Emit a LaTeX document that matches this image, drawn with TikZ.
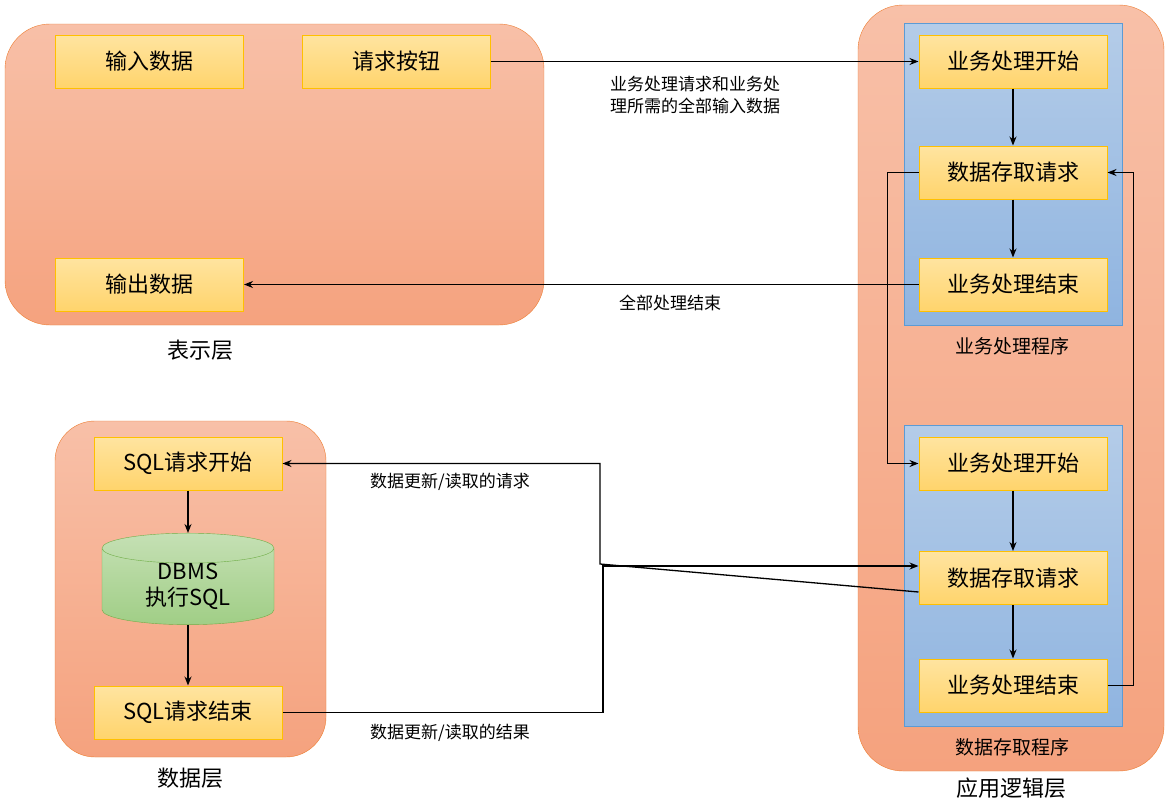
\documentclass[tikz,border=0pt]{standalone}
\usepackage{fontspec}
\setmainfont{Noto Sans CJK SC}
\usetikzlibrary{positioning,shapes.geometric,arrows.meta}
\definecolor{layerFill}{RGB}{248,192,168}
\definecolor{layerFillB}{RGB}{245,162,126}
\definecolor{layerDraw}{RGB}{237,125,49}
\definecolor{progFill}{RGB}{180,204,232}
\definecolor{progFillB}{RGB}{143,180,224}
\definecolor{progDraw}{RGB}{91,155,213}
\definecolor{stepFill}{RGB}{255,228,160}
\definecolor{stepFillB}{RGB}{255,212,108}
\definecolor{stepDraw}{RGB}{255,192,0}
\definecolor{dbFill}{RGB}{197,224,180}
\definecolor{dbFillB}{RGB}{160,206,134}
\definecolor{dbDraw}{RGB}{112,173,71}
\tikzset{
  layer/.style={draw=layerDraw,top color=layerFill,bottom color=layerFillB,rounded corners=45pt},
  prog/.style={draw=progDraw,top color=progFill,bottom color=progFillB},
  procbox/.style={draw=stepDraw,top color=stepFill,bottom color=stepFillB,line width=1pt,
    minimum width=188pt,minimum height=53pt,inner sep=0pt,font=\fontsize{22}{26}\selectfont},
  caption/.style={font=\fontsize{22}{26}\selectfont},
  subcaption/.style={font=\fontsize{19}{23}\selectfont},
  edgetext/.style={font=\fontsize{17}{22}\selectfont,align=left},
  flow/.style={-{Stealth[length=9pt,width=7pt]},line width=1.3pt}
}
\begin{document}
\begin{tikzpicture}[x=1pt,y=-1pt]
\path[use as bounding box,fill=white] (0,0) rectangle (1171,803);
% layers
\path[layer] (5,24) rectangle (544,325);
\path[layer] (858,5) rectangle (1164,771);
\path[layer,rounded corners=40pt] (55,421) rectangle (326,757);
\path[prog] (904,23) rectangle (1122,325);
\path[prog] (904,425) rectangle (1122,726);
\node[caption] (showCap) at (200,350) {表示层};
\node[caption] (appCap) at (1011,788) {应用逻辑层};
\node[caption] (dataCap) at (190,778) {数据层};
\node[subcaption] (bizCap) at (1012,346) {业务处理程序};
\node[subcaption] (accCap) at (1012,747) {数据存取程序};

% presentation layer
\node[procbox] (input) at (149.5,61.5) {输入数据};
\node[procbox] (button) at (396,61.5) {请求按钮};
\node[procbox] (output) at (149.5,284.5) {输出数据};

% business program
\node[procbox] (bizStart) at (1013,61.5) {业务处理开始};
\node[procbox] (bizReq) at (1013,172.5) {数据存取请求};
\node[procbox] (bizEnd) at (1013,284.5) {业务处理结束};

% data access program
\node[procbox] (accStart) at (1013,463.5) {业务处理开始};
\node[procbox] (accReq) at (1013,578) {数据存取请求};
\node[procbox] (accEnd) at (1013,685.5) {业务处理结束};

% data layer
\node[procbox] (sqlStart) at (188,463.5) {SQL请求开始};
\node[cylinder,shape border rotate=90,aspect=0.35,draw=dbDraw,top color=dbFill,bottom color=dbFillB,
  minimum width=172pt,minimum height=71pt,inner sep=0pt,align=center,
  font=\fontsize{22}{26}\selectfont] (dbms) at (188,586.5) {DBMS\\执行SQL};
\node[procbox] (sqlEnd) at (188,712.5) {SQL请求结束};

% connectors
\draw[flow] (button) -- (bizStart);
\node[edgetext] (reqText) at (695,95) {业务处理请求和业务处\\理所需的全部输入数据};
\draw[flow] (bizEnd) -- (output);
\node[edgetext] (endText) at (670,303) {全部处理结束};
\draw[flow] (bizStart) -- (bizReq);
\draw[flow] (bizReq) -- (bizEnd);
\draw[flow] (accStart) -- (accReq);
\draw[flow] (accReq) -- (accEnd);
\draw[flow] (bizReq.west) -- ++(-31,0) |- (accStart.west);
\draw[flow] (accEnd.east) -- ++(26,0) |- (bizReq.east);
\draw[flow] ([yshift=-14pt]accReq.west) -- (600,564) |- (sqlStart.east);
\node[edgetext] (askText) at (450,482) {数据更新/读取的请求};
\draw[flow] (sqlEnd.east) -- (603,712.5) |- ([yshift=12pt]accReq.west);
\node[edgetext] (ansText) at (450,733) {数据更新/读取的结果};
\draw[flow] (sqlStart) -- (dbms);
\draw[flow] (dbms) -- (sqlEnd);
\end{tikzpicture}
\end{document}
